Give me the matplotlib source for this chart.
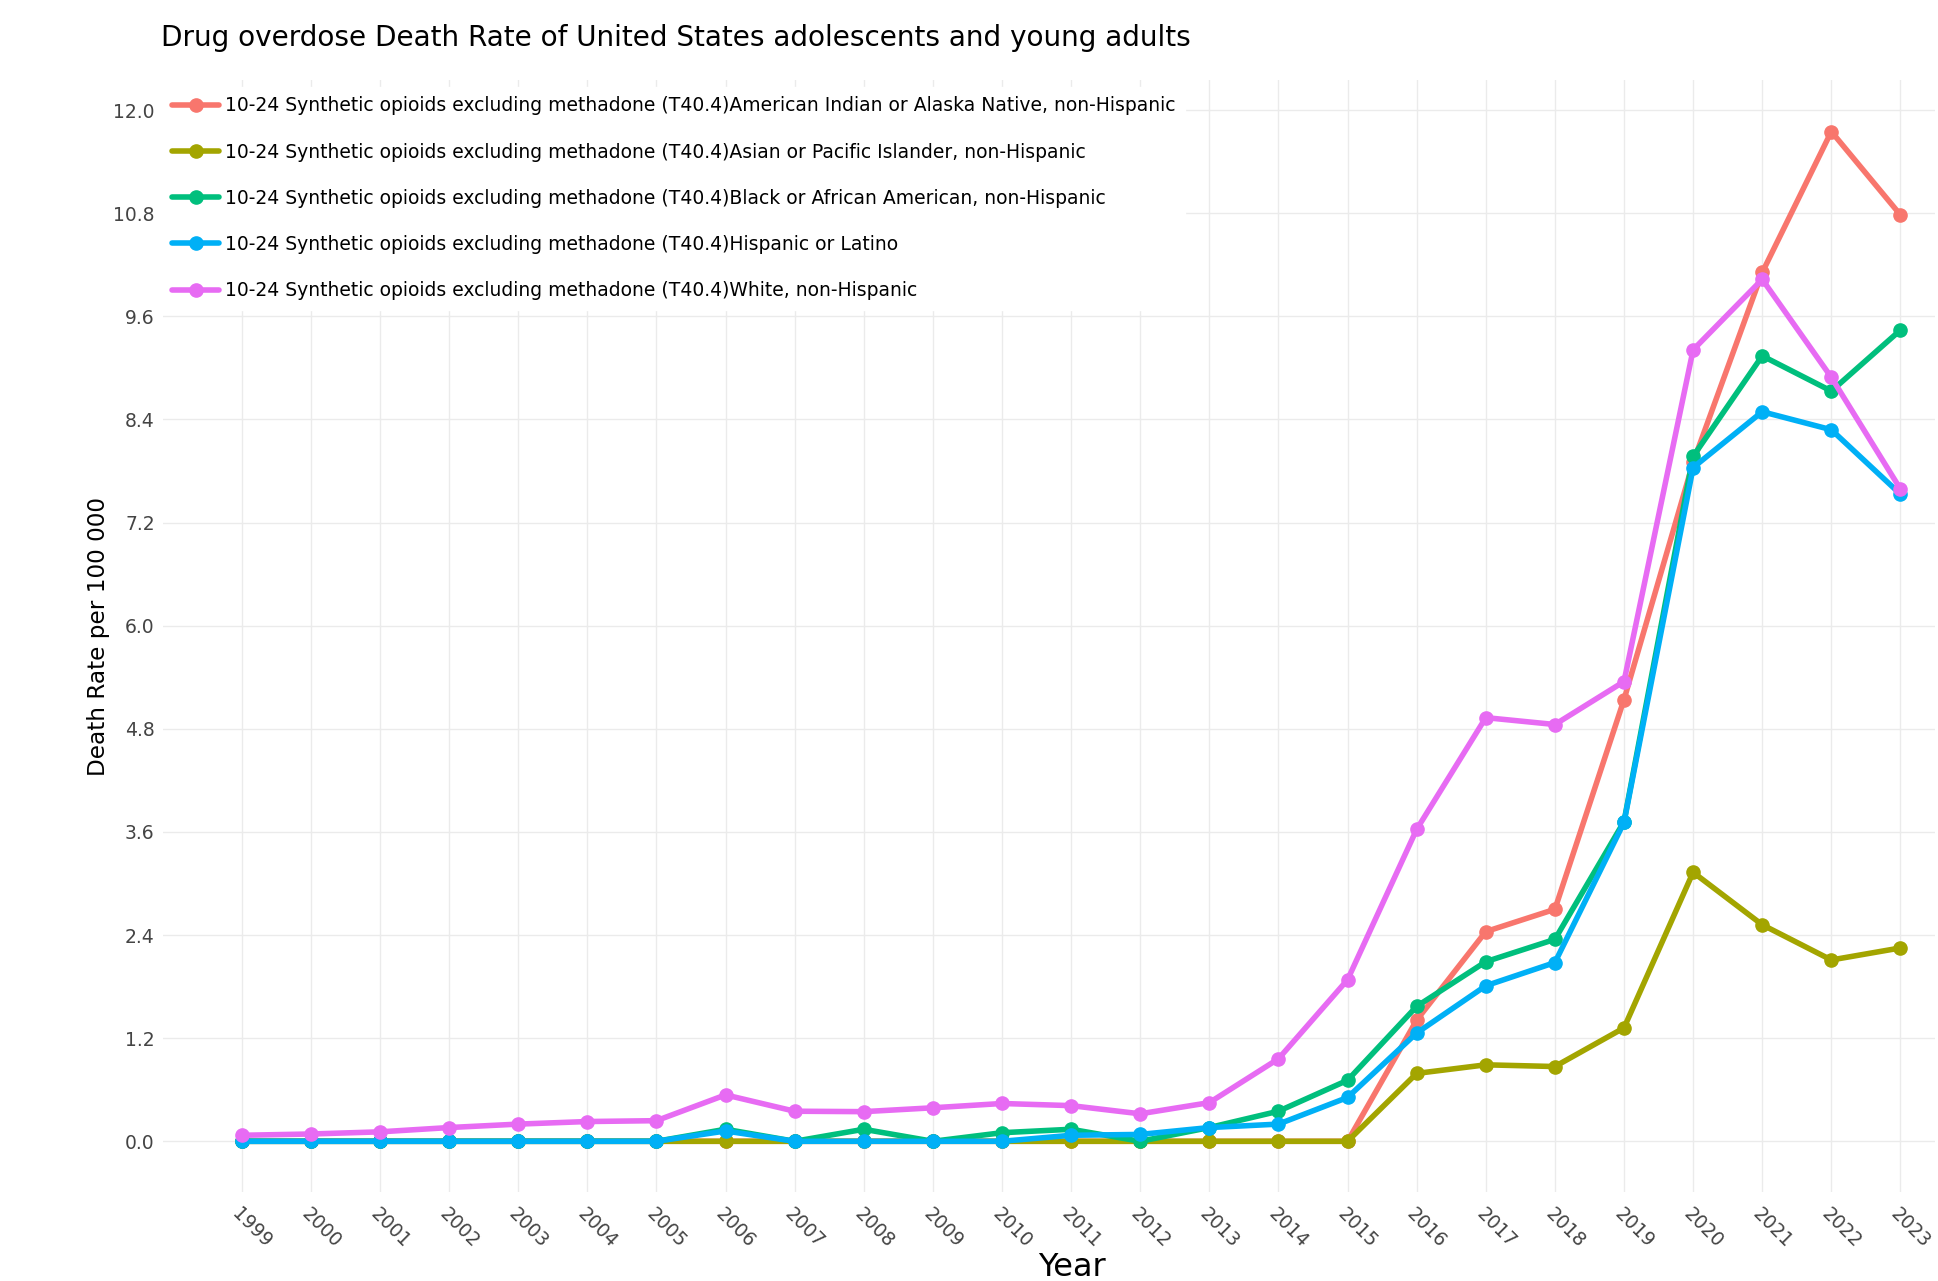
import matplotlib
matplotlib.use("Agg")
import matplotlib.pyplot as plt
import numpy as np

years = list(range(1999, 2024))

prefix = "10-24 Synthetic opioids excluding methadone (T40.4)"
groups = [
    "American Indian or Alaska Native, non-Hispanic",
    "Asian or Pacific Islander, non-Hispanic",
    "Black or African American, non-Hispanic",
    "Hispanic or Latino",
    "White, non-Hispanic",
]

aian = [0, 0, 0, 0, 0, 0, 0, 0, 0, 0, 0, 0, 0, 0, 0, 0, 0,
        1.41, 2.44, 2.70, 5.14, 7.90, 10.11, 11.75, 10.78]
api = [0, 0, 0, 0, 0, 0, 0, 0, 0, 0, 0, 0, 0, 0, 0, 0, 0,
       0.79, 0.89, 0.87, 1.32, 3.13, 2.52, 2.11, 2.25]
black = [0, 0, 0, 0, 0, 0, 0, 0.14, 0, 0.14, 0, 0.10, 0.14, 0, 0.16, 0.35, 0.71,
         1.57, 2.09, 2.35, 3.72, 7.97, 9.14, 8.73, 9.44]
hispanic = [0, 0, 0, 0, 0, 0, 0, 0.12, 0, 0, 0, 0, 0.07, 0.08, 0.16, 0.20, 0.51,
            1.26, 1.81, 2.08, 3.71, 7.84, 8.49, 8.28, 7.53]
white = [0.07, 0.085, 0.11, 0.16, 0.20, 0.23, 0.24, 0.54, 0.35, 0.345, 0.39, 0.44, 0.415,
         0.32, 0.45, 0.96, 1.88, 3.63, 4.93, 4.85, 5.35, 9.21, 10.03, 8.89, 7.59]

series = [aian, api, black, hispanic, white]
colors = ["#F8766D", "#A3A500", "#00BF7D", "#00B0F6", "#E76BF3"]

yticks = [0.0, 1.2, 2.4, 3.6, 4.8, 6.0, 7.2, 8.4, 9.6, 10.8, 12.0]

W, H = 1938, 1281
fig = plt.figure(figsize=(W / 100, H / 100), dpi=100)
ax = fig.add_axes([163 / W, 1 - 1192 / H, (1935 - 163) / W, (1192 - 80) / H])

for vals, col, g in zip(series, colors, groups):
    ax.plot(years, vals, color=col, lw=4.0, marker="o", ms=9.5,
            label=prefix + g, solid_joinstyle="round", solid_capstyle="round")

ax.set_xlim(1997.86, 2023.5)
ax.set_ylim(-0.59, 12.35)
ax.set_xticks(years)
ax.set_xticklabels([str(y) for y in years], rotation=-45, ha="left", va="top",
                   rotation_mode="anchor")
ax.set_yticks(yticks)
ax.set_yticklabels([f"{v:.1f}" for v in yticks])
ax.tick_params(axis="both", length=0, colors="#444444", labelsize=13.5)
ax.tick_params(axis="x", pad=9)
ax.tick_params(axis="y", pad=6)
ax.grid(True, color="#ebebeb", lw=1.0)
ax.set_axisbelow(True)
for s in ax.spines.values():
    s.set_visible(False)

fig.text(99 / W, 1 - 637 / H, "Death Rate per 100 000", fontsize=16.7, rotation=90,
         ha="center", va="center")
fig.text(1072 / W, 1 - 1267 / H, "Year", fontsize=23, ha="center", va="center")
fig.text(161 / W, 1 - 38 / H, "Drug overdose Death Rate of United States adolescents and young adults",
         fontsize=20.1, ha="left", va="center")

leg = ax.legend(loc="upper left", bbox_to_anchor=(163 / W, 1 - 87 / H),
                bbox_transform=fig.transFigure, frameon=True, fontsize=13.5,
                handlelength=2.5, handletextpad=0.3, labelspacing=1.45,
                borderpad=0.5, borderaxespad=0, fancybox=False)
leg.get_frame().set_facecolor("white")
leg.get_frame().set_edgecolor("white")
leg.get_frame().set_alpha(1)

fig.savefig("out.png", dpi=100, facecolor="white")
